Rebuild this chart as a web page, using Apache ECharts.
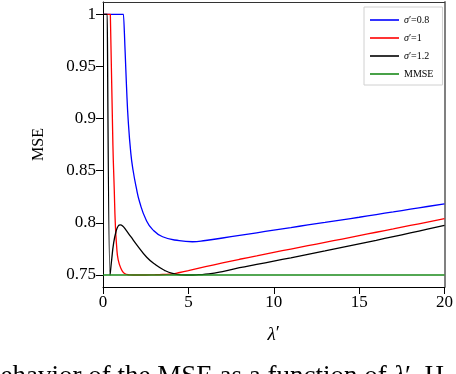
<!DOCTYPE html>
<html>
<head>
<meta charset="utf-8">
<script src="https://cdn.jsdelivr.net/npm/echarts@6/dist/echarts.min.js"></script>
<style>html,body{margin:0;padding:0;background:#fff}#c{width:456px;height:374px}</style>
</head>
<body>
<div id="c"></div>
<script>
// Data
var seriesNames = ['σ′=0.8', 'σ′=1', 'σ′=1.2', 'MMSE'];
var seriesColors = ['#0000ff', '#ff0000', '#000000', '#1a8a1a'];

var lambdaBlue = [0, 1.2, 1.24, 1.30, 1.378, 1.475, 1.63, 1.766, 1.94, 2.153, 2.521, 2.909, 3.49, 4.459, 5.234, 6, 7, 8, 9, 10, 11, 12, 13, 14, 15, 16, 17, 18, 19, 20];
var mseBlue    = [1, 1, 1, 0.9626, 0.9306, 0.8986, 0.8667, 0.8500, 0.8345, 0.8195, 0.8030, 0.7935, 0.7867, 0.7829, 0.7819, 0.7831, 0.7855, 0.7880, 0.7905, 0.7930, 0.7955, 0.7980, 0.8004, 0.8029, 0.8054, 0.8080, 0.8105, 0.8131, 0.8157, 0.8183];

var lambdaRed = [0, 0.43, 0.465, 0.58, 0.66, 0.72, 0.80, 0.89, 1.05, 1.24, 1.53, 2.0, 2.5, 3.0, 3.5, 4.07, 4.5, 5, 6, 7, 8, 9, 10, 11, 12, 13, 14, 15, 16, 17, 18, 19, 20];
var mseRed    = [1, 1, 1, 0.875, 0.8315, 0.7996, 0.7771, 0.7644, 0.7564, 0.7516, 0.7502, 0.75, 0.75, 0.7502, 0.7505, 0.751, 0.7524, 0.7542, 0.7580, 0.7616, 0.7651, 0.7684, 0.7717, 0.7749, 0.7781, 0.7813, 0.7845, 0.7877, 0.7910, 0.7942, 0.7975, 0.8007, 0.8040];

var lambdaBlack = [0, 0.25, 0.27, 0.41, 0.43, 0.506, 0.62, 0.76, 0.89, 1.01, 1.15, 1.34, 1.63, 2.0, 2.56, 3.1, 3.6, 4.07, 4.6, 5.1, 5.6, 6.2, 7, 8, 9, 10, 11, 12, 13, 14, 15, 16, 17, 18, 19, 20];
var mseBlack    = [1, 1, 1, 0.75, 0.7525, 0.7644, 0.7804, 0.7915, 0.797, 0.798, 0.797, 0.7932, 0.7867, 0.7785, 0.767, 0.7595, 0.7545, 0.7515, 0.7502, 0.75, 0.7503, 0.751, 0.7533, 0.7570, 0.7601, 0.7633, 0.7665, 0.7698, 0.7731, 0.7765, 0.7799, 0.7833, 0.7868, 0.7903, 0.7939, 0.7975];

var lambdaMMSE = [0, 20];
var mseMMSE    = [0.75, 0.75];

var yTicks = [0.75, 0.8, 0.85, 0.9, 0.95, 1];
var xTicks = [0, 5, 10, 15, 20];

function pairs(xs, ys) { return xs.map(function (x, i) { return [x, ys[i]]; }); }

var serif = 'Liberation Serif';
var chart = echarts.init(document.getElementById('c'), null, { renderer: 'canvas' });

var lineSeries = [
  pairs(lambdaBlue, mseBlue),
  pairs(lambdaRed, mseRed),
  pairs(lambdaBlack, mseBlack),
  pairs(lambdaMMSE, mseMMSE)
].map(function (d, i) {
  return {
    name: seriesNames[i], type: 'line', data: d, showSymbol: false, symbol: 'none',
    smooth: i === 3 ? false : 0.5,
    lineStyle: { color: seriesColors[i], width: 1.3 }, itemStyle: { color: seriesColors[i] },
    xAxisIndex: 0, yAxisIndex: 0, animation: false, z: 2
  };
});

chart.setOption({
  animation: false,
  backgroundColor: '#ffffff',
  grid: { left: 103, right: 8, top: 2, bottom: 87, containLabel: false },
  legend: {
    orient: 'vertical', left: 364, top: 7,
    padding: [8, 9, 6, 6], itemGap: 8, itemWidth: 29, itemHeight: 1.6,
    icon: 'rect', borderColor: '#d0d0d0', borderWidth: 1, backgroundColor: '#fff',
    data: seriesNames,
    formatter: function (n) { return n.replace('σ', '{i|σ}'); },
    textStyle: { fontFamily: serif, fontSize: 10, color: '#000', lineHeight: 10,
      rich: { i: { fontFamily: serif, fontStyle: 'italic', fontSize: 10, color: '#000' } } }
  },
  xAxis: [{
    type: 'value', min: 0, max: 20, interval: 5,
    name: '{i|λ}′', nameLocation: 'middle', nameGap: 38,
    nameTextStyle: { fontFamily: serif, fontSize: 19, color: '#000',
      rich: { i: { fontFamily: serif, fontStyle: 'italic', fontSize: 19, color: '#000' } } },
    axisLine: { show: true, onZero: false, lineStyle: { color: '#000', width: 1 } },
    axisTick: { show: true, inside: false, length: 7, lineStyle: { color: '#000' } },
    axisLabel: { margin: 7, fontFamily: serif, fontSize: 17, color: '#000', customValues: xTicks },
    splitLine: { show: false }
  }, {
    type: 'value', min: 0, max: 20, position: 'top',
    axisLine: { show: true, onZero: false, lineStyle: { color: '#333', width: 1 } },
    axisTick: { show: false }, axisLabel: { show: false }, splitLine: { show: false }
  }],
  yAxis: [{
    type: 'value', min: 0.7385, max: 1.0118,
    name: 'MSE', nameLocation: 'middle', nameGap: 56, nameRotate: 90,
    nameTextStyle: { fontFamily: serif, fontSize: 16, color: '#000' },
    axisLine: { show: true, onZero: false, lineStyle: { color: '#000', width: 1 } },
    axisTick: { show: true, inside: false, length: 7, customValues: yTicks, lineStyle: { color: '#000' } },
    axisLabel: { margin: 7, fontFamily: serif, fontSize: 17, color: '#000', customValues: yTicks,
      formatter: function (v) { return String(Math.round(v * 100) / 100); } },
    splitLine: { show: false }
  }, {
    type: 'value', min: 0.7385, max: 1.0118, position: 'right',
    axisLine: { show: true, onZero: false, lineStyle: { color: '#808080', width: 2 } },
    axisTick: { show: false }, axisLabel: { show: false }, splitLine: { show: false }
  }],
  graphic: [{
    type: 'text', left: -13, top: 363, silent: true,
    style: {
      text: 'behavior of the MSE as a function of {i|λ}′. H',
      fontFamily: serif, fontSize: 27, fill: '#000',
      rich: { i: { fontFamily: serif, fontStyle: 'italic', fontSize: 27, fill: '#000' } }
    }
  }],
  series: lineSeries
});
</script>
</body>
</html>
